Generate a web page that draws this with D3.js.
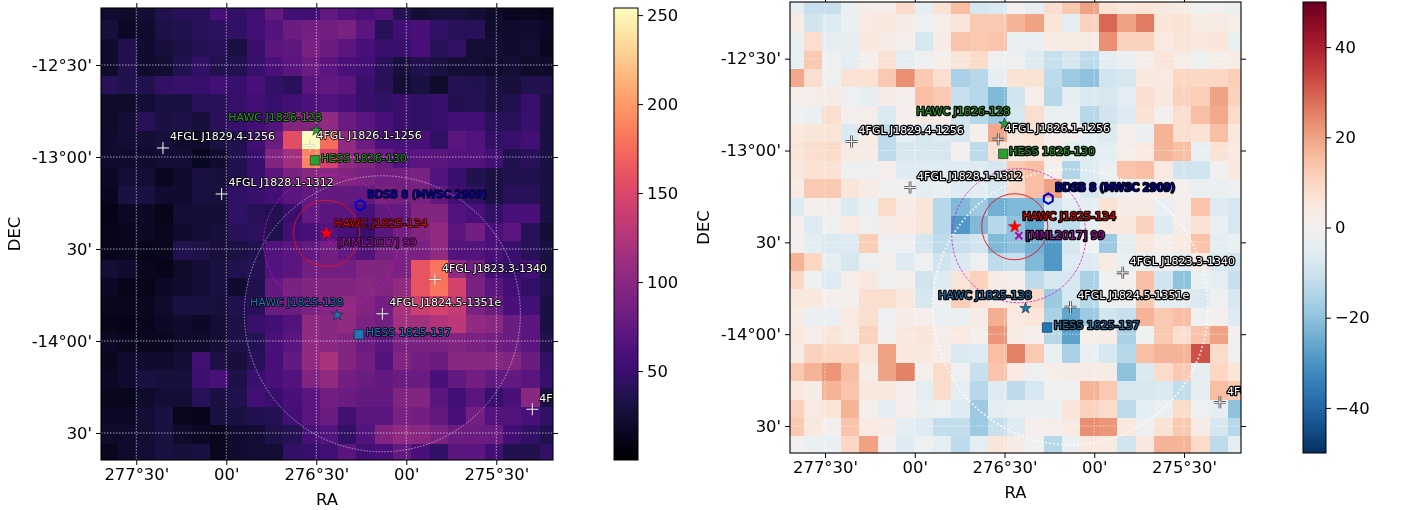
<!DOCTYPE html>
<html>
<head>
  <meta charset="UTF-8">
  <script src="https://cdn.jsdelivr.net/npm/d3@7"></script>
  <title>Counts and residual maps</title>
  <style>
    body { margin: 0; background: #fff; }
    svg { filter: blur(0.35px); }
    text { font-family: "DejaVu Sans", sans-serif; }
  </style>
</head>
<body>
<svg id="chart" width="1404" height="510" xmlns="http://www.w3.org/2000/svg"></svg>
<script>
// sky ticks
var raTicks = [277.5, 277, 276.5, 276, 275.5];
var raTickLabels = ["277°30'", "00'", "276°30'", "00'", "275°30'"];
var decTicks = [-12.5, -13, -13.5, -14, -14.5];
var decTickLabels = ["-12°30'", "-13°00'", "30'", "-14°00'", "30'"];

var countTicks = [50, 100, 150, 200, 250];
var residualTicks = [-40, -20, 0, 20, 40];

// sources
var sourceNames = ["4FGL J1829.4-1256", "4FGL J1828.1-1312", "4FGL J1826.1-1256", "4FGL J1824.5-1351e",
  "4FGL J1823.3-1340", "4FGL J1821.1-1422", "HAWC J1826-128", "HESS 1826-130", "BDSB 8 (MWSC 2909)",
  "HAWC J1825-134", "[MML2017] 99", "HAWC J1825-138", "HESS 1825-137"];
var sourceRa = [277.352, 277.026, 276.535, 276.133, 275.841, 275.30, 276.50, 276.507, 276.256,
  276.443, 276.42, 276.383, 276.263];
var sourceDec = [-12.951, -13.201, -12.938, -13.852, -13.666, -14.371, -12.855, -13.018, -13.262,
  -13.415, -13.464, -13.859, -13.964];
var sourceKinds = ["fgl", "fgl", "fgl", "fgl", "fgl", "fgl", "hawcGreen", "hessGreen", "cluster",
  "hawcRed", "mml", "hawcBlue", "hessBlue"];

// extents drawn round sources (degrees)
var bigCircle = [276.133, -13.852, 0.75];
var mmlCircle = [276.42, -13.464, 0.365];
var redCircle = [276.443, -13.415, 0.18];

// left map: counts, rows top to bottom
var countRows = [
  [22,20,25,35,40,40,58,45,55,75,55,55,75,65,60,65,38,25,28,28,25,20,15,15,12],
  [28,18,22,32,35,40,42,45,55,65,80,85,85,90,70,40,55,60,45,40,40,22,20,22,18],
  [22,35,22,28,32,38,40,30,50,70,72,90,80,70,60,50,50,60,40,45,25,25,22,25,14],
  [20,35,22,24,35,45,35,35,48,60,70,80,70,60,55,40,28,35,30,25,25,22,25,20,20],
  [40,35,35,45,48,48,55,50,60,45,40,70,75,70,50,40,25,30,20,38,35,30,28,35,35],
  [20,20,25,30,30,40,40,48,55,50,55,62,65,60,50,45,50,45,50,35,38,30,35,50,30],
  [20,25,40,30,32,28,40,50,55,65,95,95,105,80,70,60,50,45,50,55,55,40,40,50,30],
  [22,25,25,28,22,20,30,35,55,80,155,254,175,105,80,60,60,60,45,70,65,45,50,55,30],
  [22,22,22,25,25,15,22,35,50,95,115,188,145,105,95,80,65,70,70,65,65,55,35,40,30],
  [18,25,25,15,22,30,28,35,50,70,90,100,100,95,90,85,85,90,65,50,35,30,35,35,30],
  [15,30,30,22,22,30,28,45,48,55,70,75,75,75,75,90,85,90,75,55,45,30,40,40,30],
  [10,18,18,12,25,25,25,45,40,35,50,75,70,70,60,75,75,95,95,65,60,45,60,60,30],
  [12,15,18,14,22,25,28,40,42,35,55,60,65,60,50,70,85,95,105,70,85,60,70,40,25],
  [12,14,12,14,35,32,28,30,35,65,70,75,85,75,65,85,90,90,105,65,65,60,50,40,30],
  [25,22,14,12,20,25,30,35,38,65,70,85,85,85,95,95,90,160,180,105,85,55,50,55,30],
  [18,12,12,18,22,25,30,22,35,75,90,95,95,95,100,95,105,160,180,145,90,70,55,45,35],
  [14,14,15,20,30,30,28,35,40,80,80,90,95,105,95,85,120,140,145,135,90,80,60,55,30],
  [12,10,13,18,22,18,25,32,50,55,65,105,100,105,90,85,115,115,125,130,105,100,80,70,30],
  [18,14,14,15,20,20,25,32,38,60,70,105,100,95,80,70,90,90,90,95,90,85,80,70,35],
  [14,22,22,22,25,55,32,28,40,58,75,105,120,95,85,65,95,85,80,100,100,100,95,80,45],
  [18,22,30,28,28,52,60,32,50,60,65,95,105,85,80,75,80,80,60,75,85,75,75,70,50],
  [14,14,20,25,25,40,30,35,55,50,60,70,85,80,75,75,95,95,70,55,70,50,60,100,30],
  [18,18,25,30,14,12,30,30,35,38,55,70,80,55,70,70,90,85,75,60,85,65,65,60,45],
  [20,22,25,30,20,18,14,22,25,32,38,58,65,45,65,95,105,100,90,80,80,80,55,45,35],
  [14,20,25,30,28,30,14,22,25,25,45,50,55,70,55,60,75,60,45,70,70,55,35,35,45]
];

// right map: residuals, rows top to bottom
var residualRows = [
  [-4,-11,-11,-3,2,2,9,-4,7,15,-8,-7,0,-4,8,13,20,7,5,6,5,3,-1,0,-3],
  [3,-9,-6,-3,4,5,3,-2,2,6,13,13,17,20,6,-5,11,29,20,26,6,7,3,4,2],
  [-3,8,-4,-4,5,3,1,-8,3,14,13,14,-3,-3,3,4,3,23,11,11,4,6,5,6,-3],
  [-3,13,-2,-5,1,7,-5,-2,1,6,9,-2,-2,-6,-11,-8,-13,-5,-3,2,6,3,-1,2,3],
  [19,8,-2,7,7,13,23,13,8,-16,-14,-4,7,7,-13,-18,-20,-9,-8,5,4,10,10,10,12],
  [2,2,3,-2,-4,3,1,15,13,-11,-14,-22,-9,2,-14,-4,-7,-8,-5,8,5,11,12,20,11],
  [-1,-3,8,0,2,-7,2,4,3,-9,-14,-18,-8,8,-3,-3,-14,-9,-6,7,1,8,15,19,9],
  [5,6,6,-7,3,-13,-4,-8,-6,-8,1,19,5,7,1,1,-5,-7,2,-3,17,8,7,15,5],
  [6,8,9,4,3,-13,-8,-8,-8,0,-13,7,4,6,3,-5,-5,-5,2,4,17,15,-3,7,4],
  [5,7,7,-2,-2,2,-6,-6,-6,-6,-6,-8,13,15,1,-15,-6,-3,14,15,4,-9,-9,-1,5],
  [3,13,13,6,3,-1,-1,-5,-3,-6,-5,-8,9,15,20,-2,-8,-5,-2,2,3,0,-3,-3,-2],
  [-6,1,1,-7,-3,9,3,6,-14,-22,-18,-24,-22,-22,-9,-5,-4,7,3,3,-3,2,14,-6,-8],
  [1,-6,-1,4,-2,3,4,6,-14,-29,-22,-14,-20,-26,-11,-13,-5,5,5,11,-6,2,7,-3,-8],
  [0,-5,-7,-6,12,-2,-2,-8,-13,-11,-9,-22,-20,-24,-29,-8,-1,-18,-4,5,1,4,14,-5,-3],
  [17,10,-4,-8,-2,1,-6,-2,-9,-7,-2,-13,-11,-22,-29,-6,-6,3,-3,-3,-2,-5,3,-7,-9],
  [10,-1,-6,2,5,-2,1,-9,-6,6,11,3,1,-13,-8,-8,-16,-1,0,15,-9,-20,-3,-5,-11],
  [5,5,1,1,8,8,5,-8,-2,12,7,3,5,9,-18,-8,-14,-2,-2,13,-5,-5,-7,-2,-8],
  [3,-3,-3,4,8,-2,3,1,-3,-3,3,18,4,6,-16,-26,-18,-9,-11,17,13,15,-1,1,-6],
  [5,2,6,3,11,0,5,6,2,4,1,22,3,1,-14,-27,2,3,-16,-1,13,8,14,20,0],
  [3,11,10,10,6,20,5,5,2,-7,-6,15,25,13,-3,-16,-3,-8,-14,15,17,17,32,9,-2],
  [13,17,22,15,3,20,25,1,9,-2,-11,14,4,-2,2,3,3,3,-20,-7,9,13,-4,10,6],
  [5,3,17,14,5,5,1,-5,9,-5,-14,-6,-13,-8,-1,-1,17,13,-8,-8,-7,-12,-4,15,13],
  [11,4,6,17,1,-5,2,-3,-2,-6,-18,-5,-3,-3,-3,6,11,9,-13,-5,-3,9,-2,-4,-20],
  [13,5,1,14,4,3,-5,-6,-12,-12,-18,-11,-6,1,2,4,23,22,5,-2,7,13,3,-8,-14],
  [0,-3,-3,10,20,0,-6,-2,-5,-13,-5,6,3,-1,-14,-3,5,4,-9,5,17,17,9,-13,-4]
];

var svg = d3.select("#chart");
var defs = svg.append("defs");

var markerColor = {
  fgl: "#fff", hawcGreen: "#2ca02c", hessGreen: "#2ca02c", cluster: "#0000cc", hawcRed: "#ff0000",
  mml: "#a010a0", hawcBlue: "#1f77b4", hessBlue: "#1f77b4"
};
var labelColor = {
  fgl: "#fff", hawcGreen: "#22a022", hessGreen: "#22a022", cluster: "#0000cc", hawcRed: "#ee0000",
  mml: "#b010b0", hawcBlue: "#1f77b4", hessBlue: "#1f77b4"
};

// where each label sits relative to its marker, px
var labelNudge = {
  "HAWC J1826-128": [-88, -12.7], "4FGL J1826.1-1256": [6.5, -10.5], "HESS 1826-130": [6, -2],
  "BDSB 8 (MWSC 2909)": [7, -11], "HAWC J1825-134": [7.8, -10.3], "[MML2017] 99": [6.8, -0.3],
  "HAWC J1825-138": [-87.3, -13], "HESS 1825-137": [7, -2]
};

var hexagon = {
  draw: function (ctx, size) {
    var r = Math.sqrt(size) / 2;
    for (var k = 0; k < 6; k++) {
      var a = Math.PI / 2 + k * Math.PI / 3;
      if (k === 0) ctx.moveTo(r * Math.cos(a), r * Math.sin(a));
      else ctx.lineTo(r * Math.cos(a), r * Math.sin(a));
    }
    ctx.closePath();
  }
};

function tickText(v) {
  return v < 0 ? "\u2212" + Math.abs(v) : String(v);
}

function drawPanel(p) {
  var x = d3.scaleLinear().domain([277.5, 275.5]).range(p.raRange);
  var y = d3.scaleLinear().domain([-12.5, -14.5]).range(p.decRange);
  var color = d3.scaleSequential(p.interpolator).domain(p.colorDomain);

  defs.append("clipPath").attr("id", p.id + "-clip")
    .append("rect")
    .attr("x", p.left).attr("y", p.top)
    .attr("width", p.right - p.left).attr("height", p.bottom - p.top);

  var plot = svg.append("g").attr("clip-path", "url(#" + p.id + "-clip)");

  // map cells
  p.rows.forEach(function (row, j) {
    plot.selectAll(null).data(row).enter().append("rect")
      .attr("x", function (d, i) { return x(p.raStart - i * p.raStep); })
      .attr("y", y(p.decStart - j * 0.1))
      .attr("width", function (d, i) { return x(p.raStart - (i + 1) * p.raStep) - x(p.raStart - i * p.raStep); })
      .attr("height", y(p.decStart - (j + 1) * 0.1) - y(p.decStart - j * 0.1))
      .attr("fill", function (d) { return color(d); })
      .attr("shape-rendering", "crispEdges");
  });

  // grid
  plot.selectAll(null).data(raTicks).enter().append("line")
    .attr("x1", x).attr("x2", x).attr("y1", p.top).attr("y2", p.bottom)
    .attr("stroke", "#fff").attr("stroke-width", 1).attr("stroke-opacity", 0.6).attr("stroke-dasharray", "1.5,1.5");
  plot.selectAll(null).data(decTicks).enter().append("line")
    .attr("y1", y).attr("y2", y).attr("x1", p.left).attr("x2", p.right)
    .attr("stroke", "#fff").attr("stroke-width", 1).attr("stroke-opacity", 0.6).attr("stroke-dasharray", "1.5,1.5");

  // extents
  var pxPerDeg = Math.abs(y(-13) - y(-12));
  function ring(c, stroke, width, opacity, dash) {
    plot.append("circle")
      .attr("cx", x(c[0])).attr("cy", y(c[1])).attr("r", c[2] * pxPerDeg)
      .attr("fill", "none").attr("stroke", stroke).attr("stroke-width", width)
      .attr("stroke-opacity", opacity).attr("stroke-dasharray", dash);
  }
  ring(bigCircle, "#fff", p.bigRingWidth, p.bigRingOpacity, p.bigRingDash);
  ring(mmlCircle, "#d010d0", 1, 0.8, "2.5,1.5");
  ring(redCircle, "#e8101c", 1, 0.9, null);

  // markers
  sourceNames.forEach(function (name, i) {
    var kind = sourceKinds[i];
    var g = plot.append("g").attr("transform", "translate(" + x(sourceRa[i]) + "," + y(sourceDec[i]) + ")");
    if (kind === "fgl") {
      var plus = "M-6,0H6M0,-6V6";
      g.append("path").attr("d", plus).attr("stroke", "#000").attr("stroke-width", p.plusHalo).attr("stroke-opacity", p.plusHaloOpacity);
      g.append("path").attr("d", plus).attr("stroke", "#fff").attr("stroke-width", 1);
    } else if (kind === "cluster") {
      g.append("path").attr("d", d3.symbol().type(hexagon).size(105)())
        .attr("fill", "none").attr("stroke", markerColor[kind]).attr("stroke-width", 2);
    } else if (kind === "mml") {
      g.append("path").attr("d", d3.symbol().type(d3.symbolTimes).size(34)())
        .attr("fill", "none").attr("stroke", markerColor[kind]).attr("stroke-width", p.mmlWidth);
    } else {
      var isStar = kind.indexOf("hawc") === 0;
      var big = kind === "hawcRed";
      g.append("path")
        .attr("d", d3.symbol().type(isStar ? d3.symbolStar : d3.symbolSquare).size(isStar ? (big ? 48 : 40) : 90)())
        .attr("fill", markerColor[kind]).attr("stroke", big ? "#e00000" : "#123").attr("stroke-width", 0.6);
    }
  });

  // labels
  sourceNames.forEach(function (name, i) {
    var nudge = labelNudge[name] || [7, -11];
    plot.append("text")
      .attr("x", x(sourceRa[i]) + nudge[0])
      .attr("y", y(sourceDec[i]) + nudge[1])
      .attr("dominant-baseline", "central")
      .attr("font-size", 11)
      .attr("fill", labelColor[sourceKinds[i]])
      .attr("stroke", "#000")
      .attr("stroke-width", p.labelHalo)
      .attr("stroke-linejoin", "round")
      .style("paint-order", "stroke")
      .text(name);
  });

  // frame and axes
  svg.append("rect")
    .attr("x", p.left).attr("y", p.top)
    .attr("width", p.right - p.left).attr("height", p.bottom - p.top)
    .attr("fill", "none").attr("stroke", "#000").attr("stroke-width", 1.1);

  var axes = [
    { axis: d3.axisBottom(x).tickValues(raTicks).tickFormat(function (d, i) { return raTickLabels[i]; }).tickPadding(3), at: [0, p.bottom] },
    { axis: d3.axisTop(x).tickValues(raTicks).tickFormat(""), at: [0, p.top] },
    { axis: d3.axisLeft(y).tickValues(decTicks).tickFormat(function (d, i) { return decTickLabels[i]; }).tickPadding(4), at: [p.left, 0] },
    { axis: d3.axisRight(y).tickValues(decTicks).tickFormat(""), at: [p.right, 0] }
  ];
  axes.forEach(function (a) {
    var g = svg.append("g")
      .attr("transform", "translate(" + a.at[0] + "," + a.at[1] + ")")
      .call(a.axis.tickSize(5));
    g.select(".domain").remove();
    g.selectAll("line").attr("stroke-width", 1);
    g.selectAll("text").attr("font-size", 16.4).attr("font-family", "DejaVu Sans").attr("fill", "#000");
  });

  svg.append("text")
    .attr("x", (p.left + p.right) / 2).attr("y", p.bottom + 39)
    .attr("text-anchor", "middle").attr("dominant-baseline", "central")
    .attr("font-size", 16.4).attr("fill", "#000").text("RA");
  svg.append("text")
    .attr("transform", "translate(" + p.decLabelX + "," + ((p.top + p.bottom) / 2) + ") rotate(-90)")
    .attr("text-anchor", "middle").attr("dominant-baseline", "central")
    .attr("font-size", 16.4).attr("fill", "#000").text("DEC");

  // colour bar
  var gradId = p.id + "-grad";
  var grad = defs.append("linearGradient").attr("id", gradId)
    .attr("x1", 0).attr("x2", 0).attr("y1", 1).attr("y2", 0);
  d3.range(0, 1.001, 0.02).forEach(function (t) {
    grad.append("stop").attr("offset", t).attr("stop-color", p.interpolator(t));
  });
  var barY = d3.scaleLinear().domain(p.colorDomain).range([p.bottom, p.top]);
  svg.append("rect")
    .attr("x", p.barLeft).attr("y", p.top)
    .attr("width", p.barWidth).attr("height", p.bottom - p.top)
    .attr("fill", "url(#" + gradId + ")").attr("stroke", "#000").attr("stroke-width", 1);
  var barAxis = svg.append("g")
    .attr("transform", "translate(" + (p.barLeft + p.barWidth) + ",0)")
    .call(d3.axisRight(barY).tickValues(p.barTicks).tickFormat(tickText).tickSize(5).tickPadding(4));
  barAxis.select(".domain").remove();
  barAxis.selectAll("text").attr("font-size", 16.4).attr("font-family", "DejaVu Sans").attr("fill", "#000");
}

drawPanel({
  id: "counts", rows: countRows, interpolator: d3.interpolateMagma, colorDomain: [0, 254], barTicks: countTicks,
  left: 101, right: 553, top: 8, bottom: 460,
  raRange: [136.3, 496.3], decRange: [65, 433],
  raStart: 277.702, raStep: 0.1018, decStart: -12.158,
  bigRingWidth: 1, bigRingOpacity: 0.55, bigRingDash: "1.5,1.5",
  plusHalo: 2, plusHaloOpacity: 0.2, labelHalo: 1.6, mmlWidth: 1.2,
  decLabelX: 14, barLeft: 614, barWidth: 24
});

drawPanel({
  id: "residuals", rows: residualRows, interpolator: function (t) { return d3.interpolateRdBu(1 - t); },
  colorDomain: [-50, 50], barTicks: residualTicks,
  left: 790, right: 1241, top: 2, bottom: 453,
  raRange: [825, 1184], decRange: [58.7, 426],
  raStart: 277.72, raStep: 0.1027, decStart: -12.156,
  bigRingWidth: 2, bigRingOpacity: 0.9, bigRingDash: "1.5,2.5",
  plusHalo: 2.6, plusHaloOpacity: 0.75, labelHalo: 2.6, mmlWidth: 2,
  decLabelX: 703, barLeft: 1303, barWidth: 23
});
</script>
</body>
</html>
